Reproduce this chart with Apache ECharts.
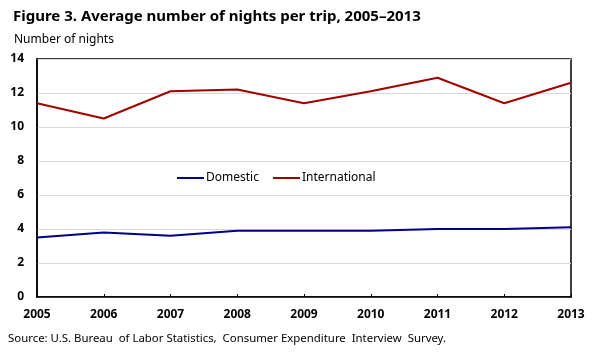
<!DOCTYPE html>
<html><head><meta charset="utf-8">
<script src="https://cdn.jsdelivr.net/npm/echarts@6/dist/echarts.min.js"></script>
<style>html,body{margin:0;padding:0;background:#fff}#c{width:599px;height:359px}</style>
</head><body><div id="c"></div>
<script>
var years = ['2005','2006','2007','2008','2009','2010','2011','2012','2013'];
var domestic = [3.5, 3.8, 3.6, 3.9, 3.9, 3.9, 4.0, 4.0, 4.1];
var international = [11.4, 10.5, 12.1, 12.2, 11.4, 12.1, 12.9, 11.4, 12.6];
var yTicks = [0, 2, 4, 6, 8, 10, 12, 14];
var titleText = 'Figure 3. Average number of nights per trip, 2005\u20132013';
var yAxisName = 'Number of nights';
var sourceText = 'Source: U.S. Bureau  of Labor Statistics,  Consumer Expenditure  Interview  Survey.';
var font = '"Noto Sans", "DejaVu Sans", sans-serif';
var chart = echarts.init(document.getElementById('c'), null, {renderer: 'canvas'});
chart.setOption({
  animation: false,
  backgroundColor: '#fff',
  title: {text: titleText, left: 8, top: 4, textStyle: {fontFamily: font, fontSize: 15, fontWeight: 'bold', color: '#000'}},
  graphic: [
    {type: 'text', left: 14, top: 34, style: {text: yAxisName, font: '12px ' + font, fill: '#000'}},
    {type: 'text', left: 8, top: 333, style: {text: sourceText, font: '11.4px ' + font, fill: '#000'}}
  ],
  legend: {
    left: 172, top: 167, itemWidth: 27, itemHeight: 2, itemGap: 14, icon: 'rect',
    textStyle: {fontFamily: font, fontSize: 12, color: '#000', padding: [0,0,0,-3]},
    data: ['Domestic', 'International']
  },
  grid: {left: 37, right: 28, top: 59, bottom: 62, show: true, borderColor: '#000', borderWidth: 1.5},
  xAxis: {
    type: 'category', data: years, boundaryGap: false,
    axisLine: {lineStyle: {color: '#000', width: 1.5}},
    axisTick: {inside: true, length: 3, lineStyle: {color: '#000'}},
    axisLabel: {fontFamily: font, fontSize: 12, fontWeight: 'bold', color: '#000', margin: 12, showMinLabel: true, showMaxLabel: true, interval: 0}
  },
  yAxis: {
    type: 'value', min: yTicks[0], max: yTicks[yTicks.length-1], interval: 2,
    axisLine: {show: true, lineStyle: {color: '#000', width: 1.5}},
    axisTick: {show: false},
    splitLine: {lineStyle: {color: '#d9d9d9', width: 1}},
    axisLabel: {fontFamily: font, fontSize: 12, fontWeight: 'bold', color: '#000', margin: 13}
  },
  series: [
    {name: 'Domestic', type: 'line', data: domestic, showSymbol: false, lineStyle: {color: '#00008b', width: 2}, itemStyle: {color: '#00008b'}},
    {name: 'International', type: 'line', data: international, showSymbol: false, lineStyle: {color: '#a00000', width: 2}, itemStyle: {color: '#a00000'}}
  ]
});
</script></body></html>
